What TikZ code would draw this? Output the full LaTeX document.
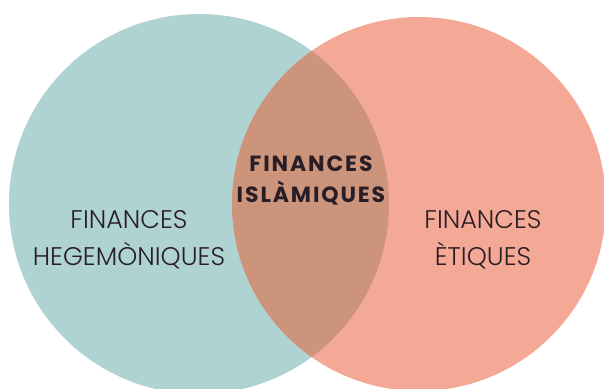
\documentclass[tikz,border=0pt]{standalone}
\usepackage{fontspec}
\setmainfont{Poppins}[UprightFont=* Light, BoldFont=* Bold]
\usepackage{tikz}

\definecolor{hegemfill}{HTML}{AFD3D3}
\definecolor{eticfill}{HTML}{F4A996}
\definecolor{islamfill}{HTML}{CC957B}
\definecolor{labeltext}{HTML}{2A1E26}

\begin{document}
\begin{tikzpicture}[x=1pt, y=-1pt, slabel/.style={text=labeltext, align=center, font=\fontsize{25.5}{37}\selectfont}, clabel/.style={text=labeltext, align=center, font=\fontsize{22}{31}\selectfont\bfseries\addfontfeatures{LetterSpace=8.5}}]
    \useasboundingbox (0,0) rectangle (604,388);
    % the two sets
    \fill[hegemfill] (199,204) circle (190);
    \fill[eticfill] (419,204) circle (187);
    \begin{scope}
     \clip (199,204) circle (190);
     \fill[islamfill] (419,204) circle (187);
    \end{scope}

    \node[slabel] (hegem) at (129,240) {FINANCES\\HEGEMÒNIQUES};
    \node[slabel] (etic) at (483,240) {FINANCES\\ÈTIQUES};
    \node[clabel] (islam) at (311,180) {FINANCES\\ISLÀMIQUES};
\end{tikzpicture}
\end{document}
